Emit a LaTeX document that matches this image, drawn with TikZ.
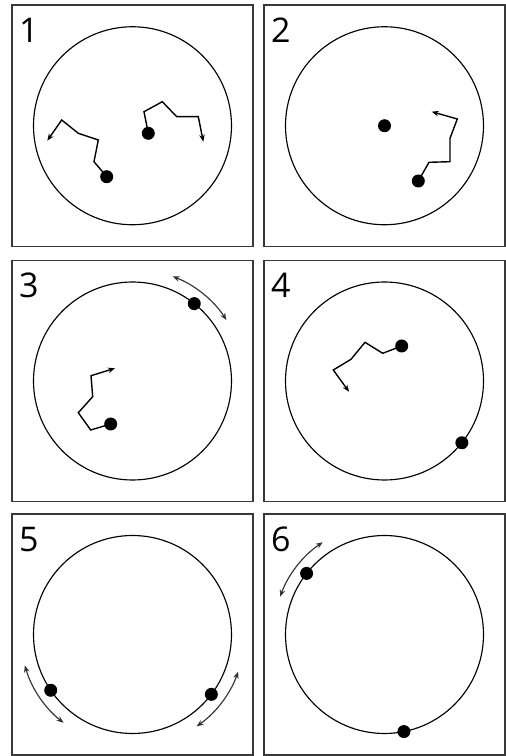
\documentclass[tikz,border=0pt]{standalone}
\usepackage{fontspec}
\setmainfont{Open Sans}
\usetikzlibrary{arrows.meta,calc}
\begin{document}
\begin{tikzpicture}[x=1pt,y=1pt,
  panel/.style={draw=black!78, line width=1.5pt},
  ring/.style={draw=black, line width=1.15pt},
  dot/.style={circle, fill=black, inner sep=0pt, minimum size=13pt},
  walk/.style={draw=black, line width=1.4pt, line join=miter, -{Stealth[length=7pt,width=5.5pt]}},
  swing/.style={draw=black!80, line width=1.15pt, {Stealth[length=7pt,width=5.5pt]}-{Stealth[length=7pt,width=5.5pt]}},
  num/.style={anchor=base west, inner sep=0pt, font=\fontsize{34}{34}\selectfont, text=black}]
\useasboundingbox (0,0) rectangle (506,756);

% panels
\draw[panel] (12,751) rectangle (253,509.5);
\draw[panel] (264,751) rectangle (505,509.5);
\draw[panel] (12,495.5) rectangle (253,254.5);
\draw[panel] (264,495.5) rectangle (505,254.5);
\draw[panel] (12,242) rectangle (253,1);
\draw[panel] (264,242) rectangle (505,1);

% labels
\node[num] (n1) at (19,713.5) {1};
\node[num] (n2) at (271,713.5) {2};
\node[num] (n3) at (19,458) {3};
\node[num] (n4) at (271,458) {4};
\node[num] (n5) at (19,204.5) {5};
\node[num] (n6) at (271,204.5) {6};

% circle centres
\coordinate (c1) at (132.5,630.25);
\coordinate (c2) at (384.5,630.25);
\coordinate (c3) at (132.5,375);
\coordinate (c4) at (384.5,375);
\coordinate (c5) at (132.5,121.5);
\coordinate (c6) at (384.5,121.5);
\foreach \c in {c1,c2,c3,c4,c5,c6} \draw[ring] (\c) circle[radius=99];

% ---- panel 1
\coordinate (a1) at (106.7,579.3);
\coordinate (b1) at (148.3,622.7);
\draw[walk] (a1) -- (94,594.3) -- (98.3,616) -- (78.3,622.7) -- (61.7,636) -- (47.3,615.3);
\draw[walk] (b1) -- (144,644.3) -- (162.3,654.3) -- (176.7,639.3) -- (198.3,639.3) -- (203.3,614.3);
\node[dot] (p1a) at (a1) {};
\node[dot] (p1b) at (b1) {};

% ---- panel 2
\coordinate (a2) at (418.3,575);
\draw[walk] (a2) -- (429,593.7) -- (450,594.3) -- (450,617.7) -- (457.3,637) -- (431.7,644.3);
\node[dot] (p2a) at (c2) {};
\node[dot] (p2b) at (a2) {};

% ---- panel 3
\coordinate (a3) at (110.7,332);
\draw[walk] (a3) -- (90.7,326) -- (78.3,343.3) -- (92.7,359.3) -- (91,380.3) -- (115,387.7);
\draw[swing] ($(c3)+(69:112)$) arc[start angle=69, end angle=33, radius=112];
\node[dot] (p3a) at ($(c3)+(51.4:99)$) {};
\node[dot] (p3b) at (a3) {};

% ---- panel 4
\coordinate (a4) at (401.7,410);
\draw[walk] (a4) -- (382.7,402.7) -- (365,413.7) -- (351,396.7) -- (333.3,386) -- (349,364.3);
\node[dot] (p4a) at (a4) {};
\node[dot] (p4b) at ($(c4)+(-38.6:99)$) {};

% ---- panel 5
\draw[swing] ($(c5)+(196:112)$) arc[start angle=196, end angle=232, radius=112];
\draw[swing] ($(c5)+(-19.4:112)$) arc[start angle=-19.4, end angle=-55.1, radius=112];
\node[dot] (p5a) at ($(c5)+(214.3:99)$) {};
\node[dot] (p5b) at ($(c5)+(-37.2:99)$) {};

% ---- panel 6
\draw[swing] ($(c6)+(123.8:111)$) arc[start angle=123.8, end angle=160.1, radius=111];
\node[dot] (p6a) at ($(c6)+(141.9:99)$) {};
\node[dot] (p6b) at ($(c6)+(-78.7:99)$) {};
\end{tikzpicture}
\end{document}
